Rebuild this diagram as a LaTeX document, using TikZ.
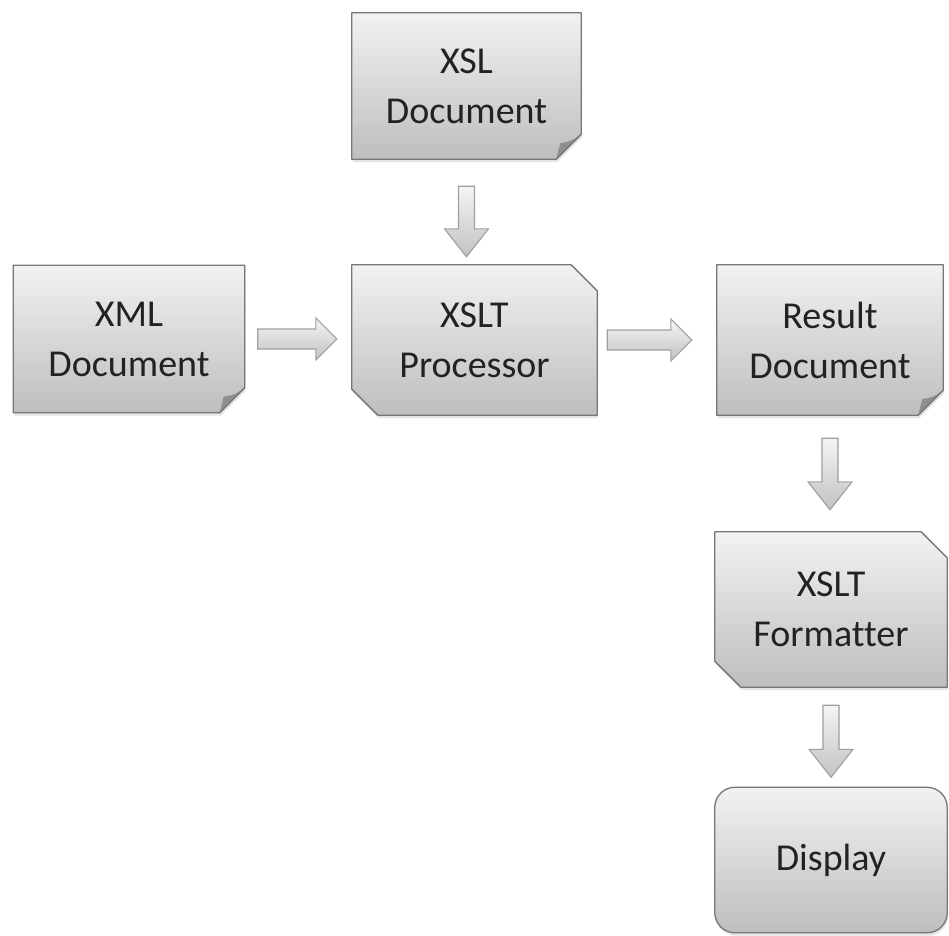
\documentclass[tikz,border=0pt]{standalone}
\usepackage{fontspec}
\setmainfont{Carlito}[Ligatures=NoCommon]
\usetikzlibrary{calc,backgrounds,shadows}
\definecolor{boxtop}{HTML}{F2F2F2}
\definecolor{boxbot}{HTML}{BEBEBE}
\definecolor{boxline}{HTML}{777777}
\definecolor{foldcol}{HTML}{8E8E8E}
\definecolor{txtcol}{HTML}{222222}
\tikzset{
  boxfill/.style={top color=boxtop, bottom color=boxbot, draw=boxline, line width=1.3pt, line join=round,
    drop shadow={shadow xshift=1pt, shadow yshift=-3pt, opacity=0.22}},
  label/.style={inner sep=0pt, align=center, text=txtcol, font=\fontsize{38}{50}\selectfont},
  barrow/.style={top color=white!92!gray, bottom color=gray!48, draw=gray!75, line width=1.1pt, line join=miter}
}
\newcommand\docshape[1]{%
  \begin{pgfonlayer}{background}
  \path[boxfill] (#1.north west) -- (#1.north east) -- ([yshift=25pt]#1.south east) -- ([xshift=-25pt]#1.south east) -- (#1.south west) -- cycle;
  \fill[foldcol] ([yshift=25pt]#1.south east) .. controls ([xshift=-10pt,yshift=18pt]#1.south east) .. ([xshift=-21pt,yshift=16pt]#1.south east) -- ([xshift=-25pt]#1.south east) -- cycle;
  \draw[boxline, line width=1pt, line join=round] ([yshift=25pt]#1.south east) -- ([xshift=-25pt]#1.south east);
  \end{pgfonlayer}}
\newcommand\snipshape[1]{%
  \begin{pgfonlayer}{background}
  \path[boxfill] (#1.north west) -- ([xshift=-26pt]#1.north east) -- ([yshift=-26pt]#1.north east) -- (#1.south east) -- ([xshift=26pt]#1.south west) -- ([yshift=26pt]#1.south west) -- cycle;
  \end{pgfonlayer}}
\newcommand\roundshape[1]{%
  \begin{pgfonlayer}{background}
  \path[boxfill, rounded corners=20pt] (#1.north west) -- (#1.north east) -- (#1.south east) -- (#1.south west) -- cycle;
  \end{pgfonlayer}}
\newcommand\harrow[2]{%
  \path[barrow] let \p1=(#1), \p2=(#2) in
    (\x1,\y1+10pt) -- (\x2-21pt,\y1+10pt) -- (\x2-21pt,\y1+21pt) -- (\x2,\y1) --
    (\x2-21pt,\y1-21pt) -- (\x2-21pt,\y1-10pt) -- (\x1,\y1-10pt) -- cycle;}
\newcommand\varrow[2]{%
  \path[barrow] let \p1=(#1), \p2=(#2) in
    (\x1-8pt,\y1) -- (\x1+8pt,\y1) -- (\x1+8pt,\y2+28pt) -- (\x1+22pt,\y2+28pt) -- (\x1,\y2) --
    (\x1-22pt,\y2+28pt) -- (\x1-8pt,\y2+28pt) -- cycle;}
\begin{document}
\begin{tikzpicture}[x=1pt,y=-1pt]
\begin{pgfonlayer}{background}
\fill[white] (0,0) rectangle (949,935);
\end{pgfonlayer}
\useasboundingbox (0,0) rectangle (949,935);
% nodes
\node[label, minimum width=229pt, minimum height=146pt] (xsl) at (466.5,86) {XSL\\Document};
\node[label, minimum width=231pt, minimum height=147pt] (xml) at (129,339) {XML\\Document};
\node[label, minimum width=245pt, minimum height=150pt] (proc) at (474.5,340) {XSLT\\Processor};
\node[label, minimum width=226pt, minimum height=150pt] (res) at (830,340) {Result\\Document};
\node[label, minimum width=232pt, minimum height=155pt] (fmt) at (831,609.5) {XSLT\\Formatter};
\node[label, minimum width=232pt, minimum height=145pt] (disp) at (831,860) {Display};
\docshape{xsl}
\docshape{xml}
\docshape{res}
\snipshape{proc}
\snipshape{fmt}
\roundshape{disp}
% arrow end points
\coordinate (a1s) at ([yshift=-27pt]xsl.south);
\coordinate (a1e) at ([yshift=8pt]proc.north);
\coordinate (a2s) at ([xshift=13pt]xml.east);
\coordinate (a2e) at ([xshift=-15pt]proc.west);
\coordinate (a3s) at ([xshift=10pt]proc.east);
\coordinate (a3e) at ([xshift=-25pt]res.west);
\coordinate (a4s) at ([yshift=-23pt]res.south);
\coordinate (a4e) at ([yshift=22pt]fmt.north);
\coordinate (a5s) at ([yshift=-18pt]fmt.south);
\coordinate (a5e) at ([yshift=10pt]disp.north);
\varrow{a1s}{a1e}
\harrow{a2s}{a2e}
\harrow{a3s}{a3e}
\varrow{a4s}{a4e}
\varrow{a5s}{a5e}
\end{tikzpicture}
\end{document}
